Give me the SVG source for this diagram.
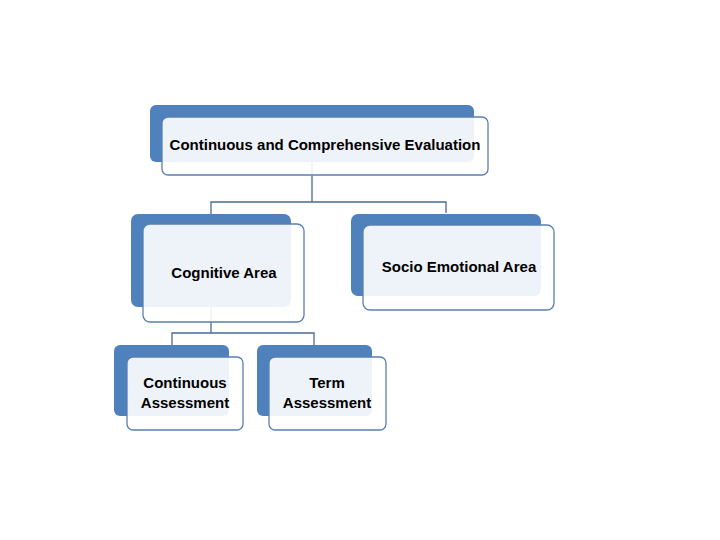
<svg xmlns="http://www.w3.org/2000/svg" width="720" height="540" viewBox="0 0 720 540">
<style>
.back{fill:#4f81bd;}
.front{fill:#ffffff;fill-opacity:0.9;stroke:#5b7fb3;stroke-width:1.3;}
.lbl{font-family:"Liberation Sans",Arial,sans-serif;font-weight:bold;font-size:15px;fill:#000;text-anchor:middle;}
.conn{fill:none;stroke:#4a6a96;stroke-width:1.3;}
</style>
<rect width="720" height="540" fill="#ffffff"/>
<g id="connectors">
<path class="conn" d="M312,150 V202 M211,213 V202 H446 V213"/>
<path class="conn" d="M211,213 V333 M172,345 V333 H314 V345"/>
</g>
<g id="cce">
<rect class="back" x="150" y="105" width="324" height="57" rx="6"/>
<rect class="front" x="162" y="117" width="326" height="58" rx="6"/>
<text class="lbl" x="325" y="150">Continuous and Comprehensive Evaluation</text>
</g>
<g id="cognitive">
<rect class="back" x="131" y="214" width="160" height="93" rx="7"/>
<rect class="front" x="143" y="224" width="161" height="98" rx="7"/>
<text class="lbl" x="224" y="278">Cognitive Area</text>
</g>
<g id="socio">
<rect class="back" x="351" y="214" width="190" height="82" rx="7"/>
<rect class="front" x="363" y="225" width="191" height="85" rx="7"/>
<text class="lbl" x="459" y="272">Socio Emotional Area</text>
</g>
<g id="continuous">
<rect class="back" x="114" y="345" width="115" height="71" rx="6"/>
<rect class="front" x="127" y="357" width="116" height="73" rx="6"/>
<text class="lbl" x="185" y="388">Continuous</text>
<text class="lbl" x="185" y="408">Assessment</text>
</g>
<g id="term">
<rect class="back" x="257" y="345" width="115" height="71" rx="6"/>
<rect class="front" x="269" y="357" width="117" height="73" rx="6"/>
<text class="lbl" x="327" y="388">Term</text>
<text class="lbl" x="327" y="408">Assessment</text>
</g>
</svg>
